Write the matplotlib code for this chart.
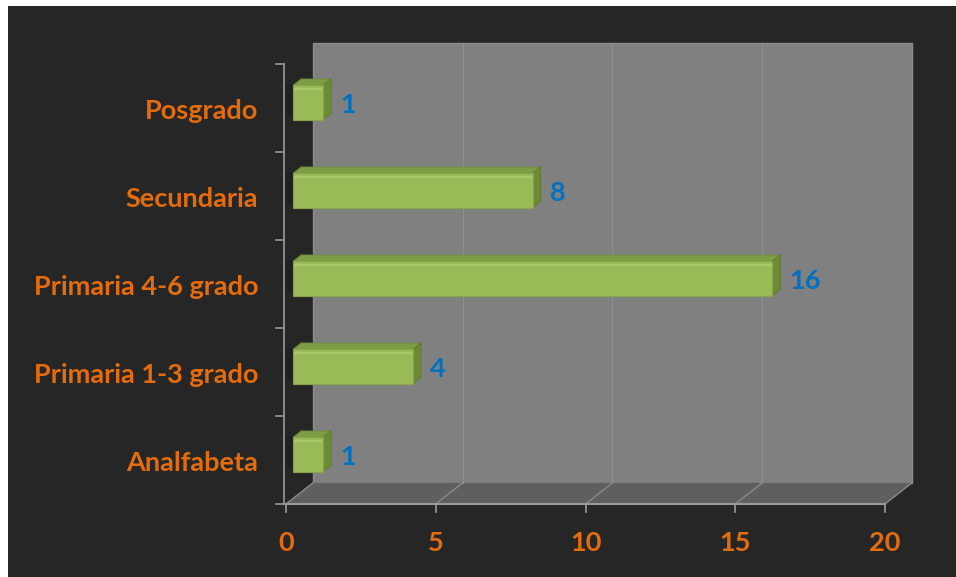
import matplotlib
matplotlib.use('Agg')
import matplotlib.pyplot as plt
from matplotlib.patches import Polygon, Rectangle

categories = ['Analfabeta', 'Primaria 1-3 grado', 'Primaria 4-6 grado', 'Secundaria', 'Posgrado']
values = [1, 4, 16, 8, 1]
xticks = [0, 5, 10, 15, 20]

BG = '#262626'
WALL = '#808080'
FLOOR = '#5f5f5f'
ORANGE = '#e46c0a'
BLUE = '#0070c0'
FONT = 'Lato'
FS = 19.5

# pseudo 3D depth (data units)
DX = 0.9    # horizontal shift of the back wall
DY = 0.24   # vertical shift of the back wall
F0, F1 = 0.26, 0.56   # bar front / back depth fraction
BH = 0.39   # bar height

fig = plt.figure(figsize=(9.56, 5.77), dpi=100)
fig.patch.set_facecolor('white')
ax = fig.add_axes([0, 0, 1, 1])
ax.set_xlim(-9.55, 22.37)
ax.set_ylim(-1.33, 5.227)
ax.axis('off')

# dark panel
ax.add_patch(Rectangle((-9.28, -1.4), 40, 6.56, facecolor=BG, edgecolor='none', zorder=0))

xmax = xticks[-1]
y0, y1 = -0.5, len(categories) - 0.5

# back wall
ax.add_patch(Polygon([(DX, y0 + DY), (xmax + DX, y0 + DY), (xmax + DX, y1 + DY), (DX, y1 + DY)],
                     closed=True, facecolor=WALL, edgecolor='#8c8c8c', lw=1, zorder=1))
for t in xticks[1:-1]:
    ax.plot([t + DX, t + DX], [y0 + DY, y1 + DY], color='#8e8e8e', lw=0.8, zorder=1.5)

# floor
ax.add_patch(Polygon([(0, y0), (xmax, y0), (xmax + DX, y0 + DY), (DX, y0 + DY)],
                     closed=True, facecolor=FLOOR, edgecolor='none', zorder=1))
for t in xticks:
    ax.plot([t, t + DX], [y0, y0 + DY], color='#8a8a8a', lw=1, zorder=1.6)

# axes lines and ticks
ax.plot([0, xmax], [y0, y0], color='#9a9a9a', lw=1.5, zorder=2)
for t in xticks:
    ax.plot([t, t], [y0, y0 - 0.09], color='#9a9a9a', lw=1.2, zorder=2)
    ax.text(t, -0.94, str(t), color=ORANGE, fontsize=FS, fontweight='bold', family=FONT,
            ha='center', va='center', zorder=5)
ax.plot([-0.07, -0.07], [y0, y1], color='#9a9a9a', lw=1.2, zorder=2)
for k in range(len(categories) + 1):
    ax.plot([-0.07, -0.33], [y0 + k, y0 + k], color='#9a9a9a', lw=1.2, zorder=2)

# bars
for i, (cat, v) in enumerate(zip(categories, values)):
    fx, fy = F0 * DX, i - BH / 2 + F0 * DY
    bx, by = F1 * DX, i - BH / 2 + F1 * DY
    # shadow on the side wall
    ax.add_patch(Rectangle((fx - 0.25, fy + 0.02), 0.25, BH, facecolor='#1c1c1c',
                           edgecolor='none', alpha=0.6, zorder=2.5))
    # top face
    ax.add_patch(Polygon([(fx, fy + BH), (fx + v, fy + BH), (bx + v, by + BH), (bx, by + BH)],
                         closed=True, facecolor='#7f9c47', edgecolor='#6f8a3b', lw=0.6, zorder=3))
    # side face
    ax.add_patch(Polygon([(fx + v, fy), (bx + v, by), (bx + v, by + BH), (fx + v, fy + BH)],
                         closed=True, facecolor='#6d8a36', edgecolor='#5f7a2e', lw=0.6, zorder=3))
    # front face
    ax.add_patch(Rectangle((fx, fy), v, BH, facecolor='#9bbb59', edgecolor='#86a547',
                           lw=0.8, zorder=3.2))
    ax.plot([fx + 0.05, fx + v - 0.05], [fy + BH - 0.04, fy + BH - 0.04],
            color='#a9c86a', lw=1.5, zorder=3.3)
    # value label
    ax.text(bx + v + 0.3, i + 0.03, str(v), color=BLUE, fontsize=FS, fontweight='bold',
            family=FONT, ha='left', va='center', zorder=5)
    # category label
    ax.text(-0.93, i - 0.04, cat, color=ORANGE, fontsize=FS, fontweight='bold',
            family=FONT, ha='right', va='center', zorder=5)

fig.savefig('out.png', dpi=100, facecolor=fig.get_facecolor())
